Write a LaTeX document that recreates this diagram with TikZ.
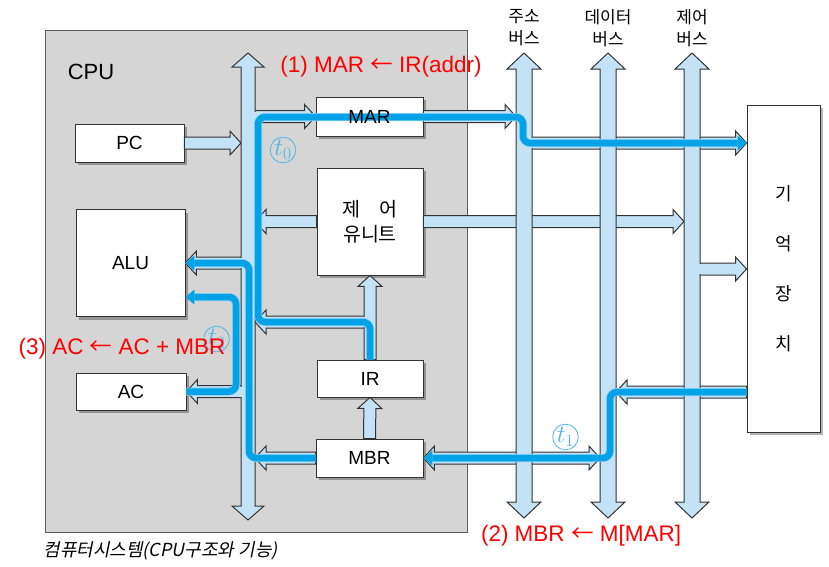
\documentclass[tikz,border=0pt]{standalone}
\usepackage{fontspec}
\setmainfont{Liberation Sans}
\newfontfamily\krfont{Noto Sans CJK KR}
\newfontfamily\krslant[FakeSlant=0.2]{Noto Sans CJK KR}
\usetikzlibrary{calc, shadows, arrows.meta}
\definecolor{busFill}{HTML}{C4E2F5}
\definecolor{busLine}{HTML}{333333}
\definecolor{flowBlue}{HTML}{00A2E8}
\definecolor{flowGlow}{HTML}{8CCFF0}
\definecolor{cpuGray}{HTML}{D5D5D5}
\definecolor{tagBlue}{HTML}{4FB4E6}

\tikzset{
  busarrow/.style={fill=busFill, draw=busLine, line width=1pt, line join=miter},
  regbox/.style={draw=busLine, fill=white, line width=0.9pt, minimum width=107pt,
    minimum height=38pt, inner sep=0pt, font=\fontsize{19}{22}\selectfont,
    drop shadow={shadow xshift=3pt, shadow yshift=-3pt, fill=black, opacity=0.3}},
  flow/.style={flowBlue, line width=6.5pt, rounded corners=7pt,
    preaction={draw=flowGlow, line width=8pt},
    -{Triangle[length=9pt, width=15pt, line width=0pt]}},
  tag/.style={circle, draw=tagBlue, text=tagBlue, line width=0.8pt, minimum size=24pt,
    inner sep=0pt, font=\fontsize{25}{25}\selectfont},
  optext/.style={text=red, font=\fontsize{22.5}{26}\selectfont},
  buslabel/.style={align=center, font=\krfont\fontsize{17}{22}\selectfont},
}
\newcommand{\toarrow}{{\krfont ←}}

% hollow arrow from #1 to #2
\newcommand{\fatarrow}[2]{%
  \coordinate (fa-h) at ($(#2)!11pt!(#1)$);
  \filldraw[busarrow] ($(#1)!6pt!90:(#2)$) -- ($(fa-h)!6pt!90:(#2)$) -- ($(fa-h)!12pt!90:(#2)$)
    -- (#2) -- ($(fa-h)!12pt!-90:(#2)$) -- ($(fa-h)!6pt!-90:(#2)$) -- ($(#1)!6pt!-90:(#2)$) -- cycle;}
% hollow arrow with two heads: from, to, shaft, head, head length
\newcommand{\fatdarrow}[5]{%
  \coordinate (fa-a) at ($(#1)!#5!(#2)$);
  \coordinate (fa-b) at ($(#2)!#5!(#1)$);
  \filldraw[busarrow] (#1) -- ($(fa-a)!#4!90:(#2)$) -- ($(fa-a)!#3!90:(#2)$) -- ($(fa-b)!#3!90:(#2)$)
    -- ($(fa-b)!#4!90:(#2)$) -- (#2) -- ($(fa-b)!#4!-90:(#2)$) -- ($(fa-b)!#3!-90:(#2)$)
    -- ($(fa-a)!#3!-90:(#2)$) -- ($(fa-a)!#4!-90:(#2)$) -- cycle;}
% hides the bus edge where an arrow leaves it
\newcommand{\joint}[1]{\fill[busFill] ($(#1)+(-2.5pt,-5pt)$) rectangle ($(#1)+(2.5pt,5pt)$);}

\begin{document}
\begin{tikzpicture}[x=1pt, y=-1pt]
    \useasboundingbox (0,0) rectangle (829,566);
    % CPU
    \draw[fill=cpuGray, draw=busLine!80, line width=0.9pt] (45,30) rectangle (467,532);
    \node[font=\fontsize{22}{26}\selectfont] (cpu) at (91,72) {CPU};

    % bus edges
    \coordinate (ibW) at (241,0); \coordinate (ibC) at (248,0); \coordinate (ibE) at (255,0);
    \coordinate (abW) at (516,0); \coordinate (abE) at (532,0);
    \coordinate (dbW) at (600,0);
    \coordinate (cbW) at (684,0); \coordinate (cbE) at (700,0);
    \coordinate (ib-t) at (248,53); \coordinate (ib-b) at (248,520);
    \coordinate (ab-t) at (524,53); \coordinate (ab-b) at (524,518);
    \coordinate (db-t) at (608,53); \coordinate (db-b) at (608,518);
    \coordinate (cb-t) at (692,53); \coordinate (cb-b) at (692,518);

    % registers
    \node[regbox, minimum width=109pt] (pc) at (129.5,143) {PC};
    \node[regbox, minimum width=109pt, minimum height=107pt] (alu) at (130.5,263) {ALU};
    \node[regbox, minimum width=110pt, minimum height=37pt] (ac) at (131,391.5) {AC};
    \node[regbox, minimum height=39pt] (mar) at (369.5,116.5) {};
    \node[regbox, minimum width=106pt, minimum height=107pt, align=center,
        font=\krfont\fontsize{19.5}{25}\selectfont] (cu) at (370,221.5) {제\hspace{1em}어\\유니트};
    \node[regbox, minimum width=106pt, minimum height=37pt] (ir) at (370,378.5) {IR};
    \node[regbox] (mbr) at (369.5,458) {MBR};
    \node[regbox, minimum width=73pt, minimum height=327pt, align=center,
        font=\krfont\fontsize{18}{50}\selectfont] (mem) at (783.5,268.5) {기\\억\\장\\치};

    \coordinate (ab-out) at (524,143);
    \coordinate (cb-out) at (692,269);
    \coordinate (db-in) at (616,392);
    \coordinate (ir-br) at (370,322);
    \coordinate (ir-brW) at (364,322);

    % connectors
    \fatarrow{pc.east}{pc.east -| ibW}
    \fatarrow{mar.west -| ibC}{mar.west}
    \fatarrow{mar.east}{mar.east -| abW}
    \fatarrow{ab-out}{ab-out -| mem.west}
    \fatarrow{cu.west}{cu.west -| ibE}
    \fatarrow{cu.east}{cu.east -| cbW}
    \fatarrow{cb-out}{cb-out -| mem.west}
    \fatarrow{db-in -| mem.west}{db-in}
    \fatdarrow{mbr.east}{mbr.east -| dbW}{6pt}{12pt}{11pt}
    \fatarrow{mbr.west}{mbr.west -| ibE}
    \fatarrow{alu.east -| ibC}{alu.east}
    \fatarrow{ac.east -| ibC}{ac.east}
    \fatarrow{ir-br}{ir-br -| ibE}

    % buses
    \fatdarrow{ib-t}{ib-b}{7pt}{16pt}{14pt}
    \fatdarrow{ab-t}{ab-b}{8pt}{17pt}{16pt}
    \fatdarrow{db-t}{db-b}{8pt}{17pt}{16pt}
    \fatdarrow{cb-t}{cb-b}{8pt}{17pt}{16pt}
    \fatarrow{ir.north}{cu.south}
    \fatarrow{mbr.north}{ir.south}
    \joint{ibE |- mar.west}
    \joint{abE |- ab-out}
    \joint{cbE |- cb-out}
    \joint{ibW |- alu.east}
    \joint{ibW |- ac.east}
    \joint{ir-brW}

    % data flow
    \draw[flow] (ir.north) -- (ir-br) -- (258,322) -- (258,117) -- (523,117) -- (523,143) -- (ab-out -| mem.west);
    \draw[flow] (db-in -| mem.west) -- (610,392) -- (610,458) -- (mbr.east);
    \draw[flow] (mbr.west) -- (249,458) -- (249,263) -- (alu.east);
    \draw[flow] (ac.east) -- (236,391.5) -- (236,297) -- ($(alu.east)+(0,34)$);
    \node[font=\fontsize{19}{22}\selectfont] (mar-t) at (mar) {MAR};

    % steps
    \node[tag] (t0) at (283,150) {$t_0$};
    \node[tag] (t1) at (565.5,437) {$t_1$};
    \node[tag] (t2) at (216.5,339) {$t_2$};
    \node[optext] (op1) at (381,67) {(1) MAR \toarrow{} IR(addr)};
    \node[optext] (op2) at (581,536) {(2) MBR \toarrow{} M[MAR]};
    \node[optext] (op3) at (122,349) {(3) AC \toarrow{} AC + MBR};

    \node[buslabel] (ab-lbl) at (524,28) {주소\\버스};
    \node[buslabel] (db-lbl) at (608,28) {데이터\\버스};
    \node[buslabel] (cb-lbl) at (692,28) {제어\\버스};
    \node[anchor=west, font=\krslant\fontsize{18}{22}\selectfont] (caption) at (40,551) {컴퓨터시스템(CPU구조와 기능)};
\end{tikzpicture}
\end{document}
